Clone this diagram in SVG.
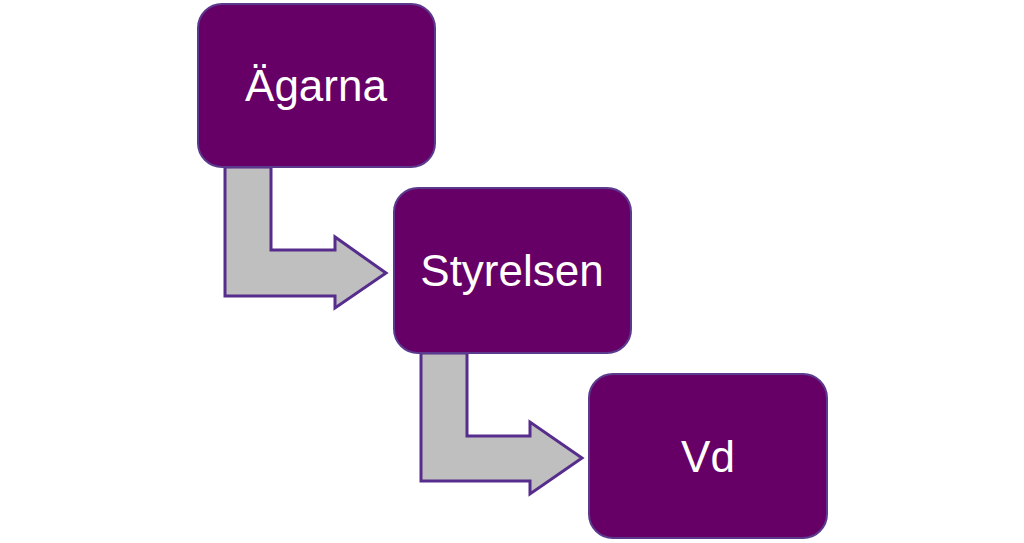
<svg xmlns="http://www.w3.org/2000/svg" width="1024" height="543" viewBox="0 0 1024 543">
<style>
.box{fill:#660066;stroke:#5b3a8e;stroke-width:2}
.lbl{fill:#fff;font-family:"Liberation Sans",Arial,sans-serif;font-size:44px;text-anchor:middle}
.arr{fill:#bfbfbf;stroke:#562d8c;stroke-width:3;stroke-linejoin:miter}
</style>
<rect width="1024" height="543" fill="#fff"/>
<g id="connectors">
<path class="arr" d="M225,167 V296 H335 V308 L386,273 L335,237 V250 H271 V167 Z"/>
<path class="arr" d="M421,353 V481 H530 V494 L582,458 L530,422 V436 H467 V353 Z"/>
</g>
<g id="node-agarna">
<rect class="box" x="198" y="4" width="237" height="163" rx="24"/>
<text class="lbl" x="316" y="101">Ägarna</text>
</g>
<g id="node-styrelsen">
<rect class="box" x="394" y="188" width="237" height="165" rx="24"/>
<text class="lbl" x="512" y="286">Styrelsen</text>
</g>
<g id="node-vd">
<rect class="box" x="589" y="374" width="238" height="164" rx="24"/>
<text class="lbl" x="708" y="472">Vd</text>
</g>
</svg>
